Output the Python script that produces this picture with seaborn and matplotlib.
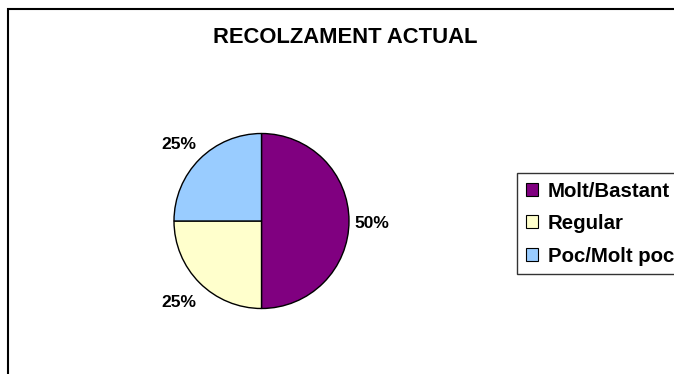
import matplotlib
matplotlib.use("Agg")
import matplotlib.pyplot as plt
from matplotlib.patches import Rectangle, Patch
import seaborn as sns

# Survey data
categories = ["Molt/Bastant", "Regular", "Poc/Molt poc"]
values = [50, 25, 25]
colors = ["#800080", "#FFFFCC", "#99CCFF"]
title = "RECOLZAMENT ACTUAL"

sns.set_theme(style="white")
plt.rcParams["font.family"] = ["Liberation Sans", "DejaVu Sans"]
plt.rcParams["text.color"] = "black"
palette = sns.color_palette(colors)

W, H = 674, 374
fig = plt.figure(figsize=(W / 100, H / 100), dpi=100)
fig.patch.set_facecolor("white")

# Outer chart-area border (extends past the right and bottom edges)
fig.patches.append(Rectangle((7.5 / W, -0.5), 2.0, 1.5 - 8.5 / H,
                             transform=fig.transFigure, fill=False,
                             edgecolor="black", linewidth=1.5, zorder=0))

# Pie axes: centre (261.5, 221) px, radius 87.5 px
cx, cy, r = 261.5, 221, 87.5
ax = fig.add_axes([(cx - r) / W, (H - cy - r) / H, 2 * r / W, 2 * r / H])
ax.axis("off")

wedges, _ = ax.pie(values, colors=palette, startangle=90, counterclock=False,
                   radius=1.0, wedgeprops=dict(edgecolor="black", linewidth=1.0))
ax.set_xlim(-1, 1)
ax.set_ylim(-1, 1)
ax.set_aspect("equal")

# Percentage labels placed outside each slice
label_pos = [(1.263, -0.03), (-0.943, -0.937), (-0.943, 0.869)]
total = sum(values)
for v, (lx, ly) in zip(values, label_pos):
    ax.text(lx, ly, f"{v / total * 100:.0f}%", ha="center", va="center",
            fontsize=12.5, fontweight="bold", color="black")

fig.text(345 / W, 1 - 37.5 / H, title, ha="center", va="center",
         fontsize=15.8, fontweight="bold", color="black")

handles = [Patch(facecolor=c, edgecolor="black", linewidth=0.8) for c in palette]
leg = fig.legend(handles, categories, loc="upper left",
                 bbox_to_anchor=(517 / W, 1 - 173 / H),
                 bbox_transform=fig.transFigure, frameon=True, fancybox=False,
                 borderaxespad=0, borderpad=0.42, handlelength=0.6,
                 handleheight=0.6, handletextpad=0.5, labelspacing=0.66,
                 labelcolor="black", prop=dict(weight="bold", size=14.7))
leg.get_frame().set_edgecolor("black")
leg.get_frame().set_linewidth(1.0)

fig.savefig("out.png", dpi=100)
